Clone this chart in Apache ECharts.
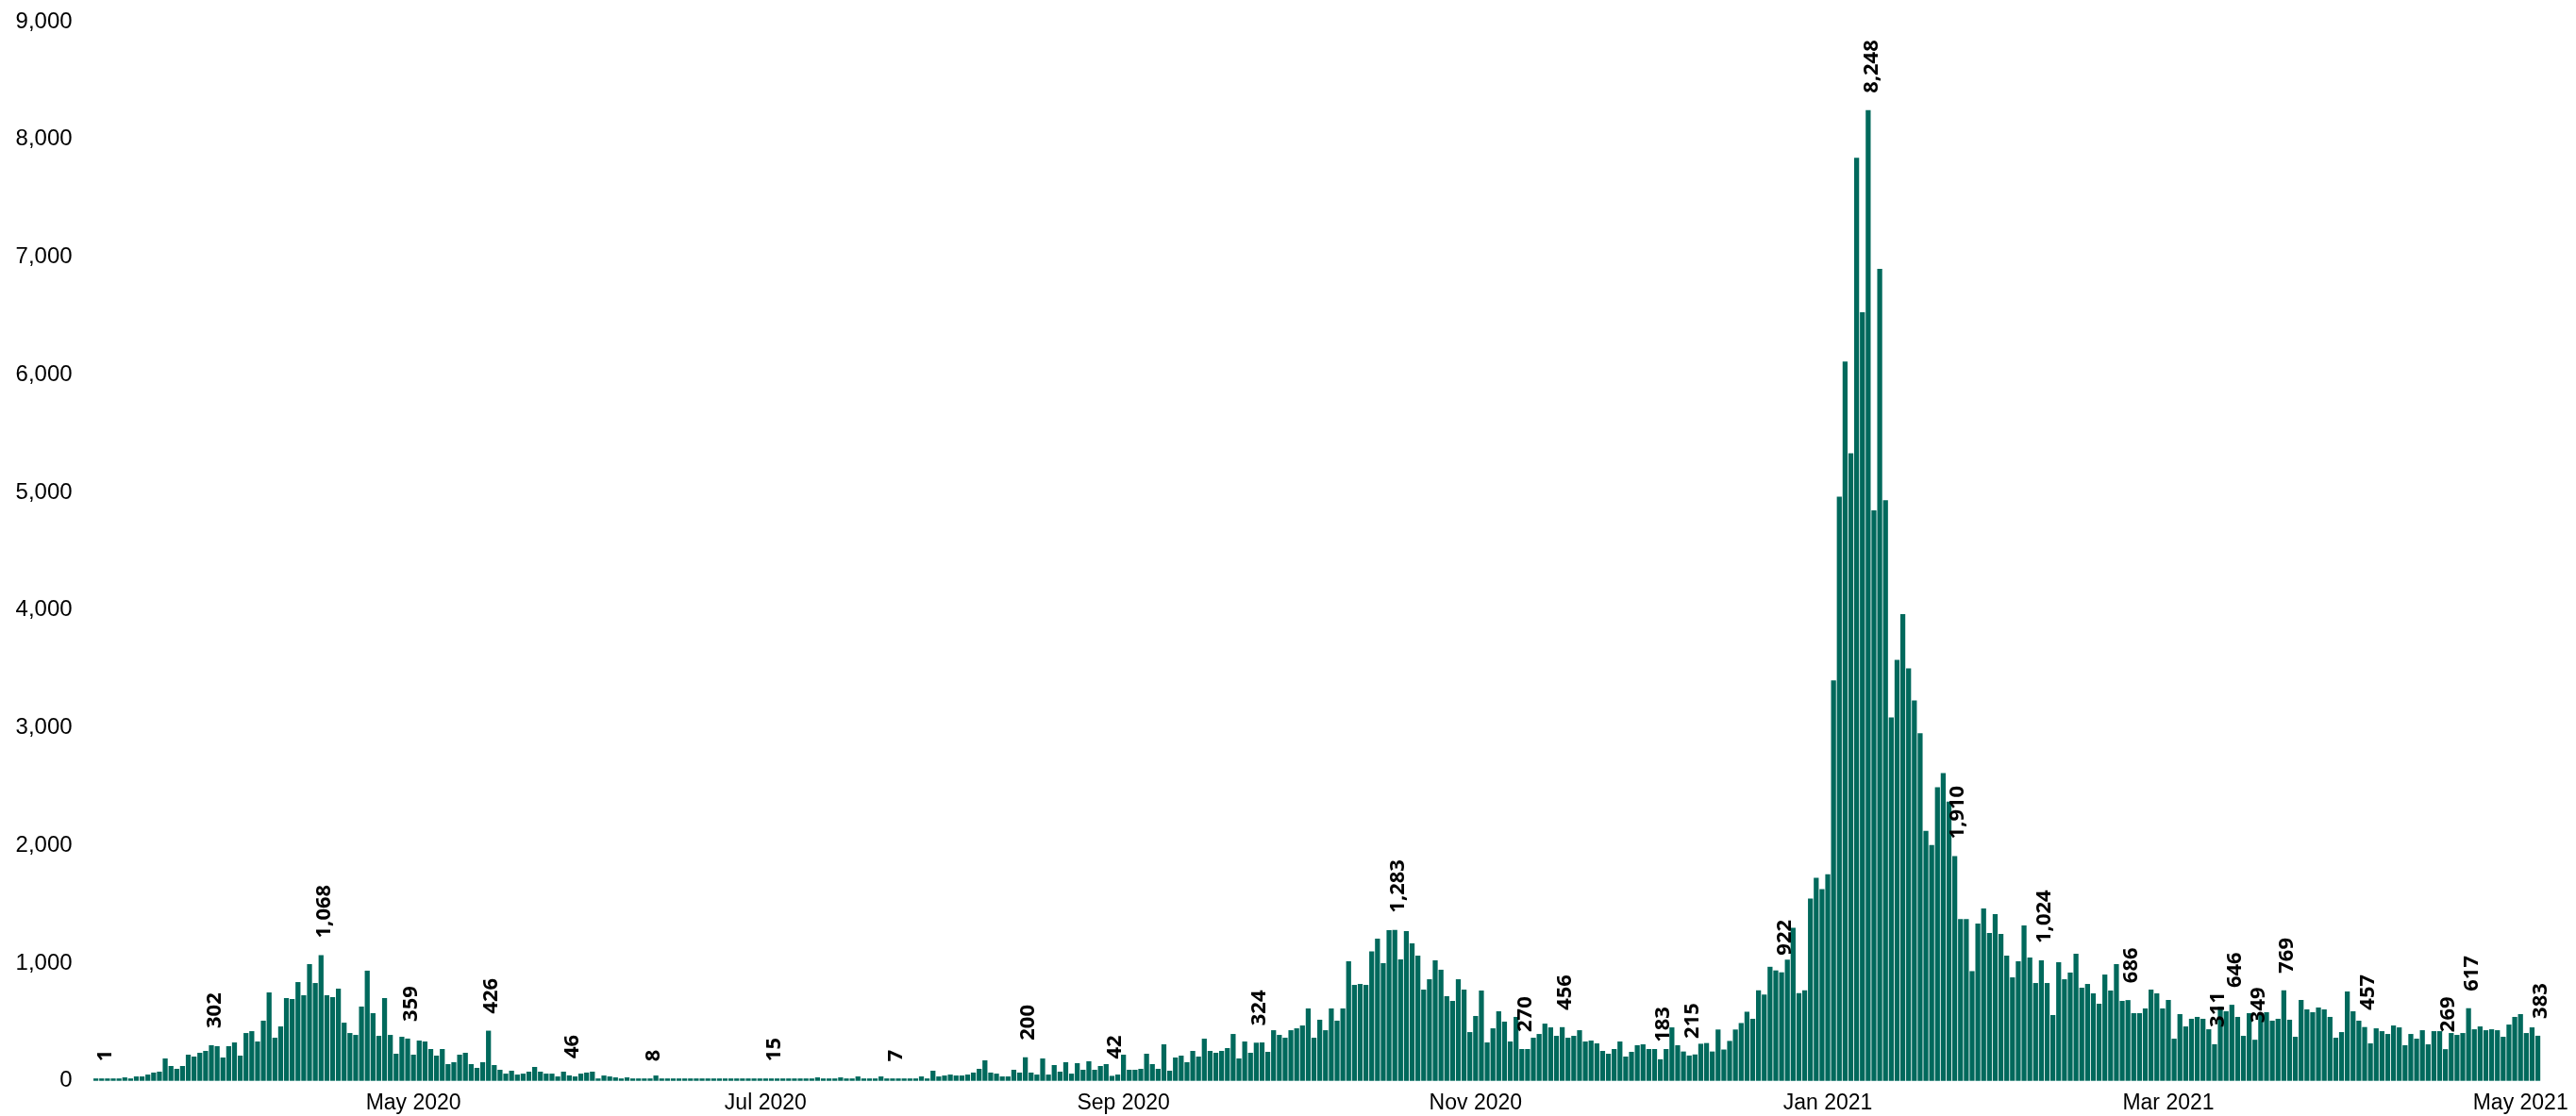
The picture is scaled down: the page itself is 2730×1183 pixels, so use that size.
<!DOCTYPE html>
<html>
<head>
<meta charset="utf-8">
<script src="https://cdn.jsdelivr.net/npm/echarts@6/dist/echarts.min.js"></script>
<style>
html,body{margin:0;padding:0;background:#ffffff;}
#chart{width:2730px;height:1183px;}
</style>
</head>
<body>
<div id="chart"></div>
<script>
// First day of the series (one bar per day)
const startDate = '2020-03-07';

// Daily values, one per day from startDate
const dailyValues = [
  1, 1, 2, 3, 2, 29, 5, 37, 37, 53,
  70, 78, 190, 126, 102, 126, 222, 206, 238, 254,
  302, 294, 198, 294, 326, 214, 406, 422, 334, 511,
  751, 366, 462, 703, 695, 839, 727, 992, 831, 1068,
  727, 711, 783, 494, 406, 390, 631, 936, 575, 382,
  703, 390, 230, 374, 359, 222, 342, 334, 270, 214,
  270, 142, 158, 222, 238, 142, 110, 158, 426, 134,
  94, 61, 86, 53, 61, 78, 118, 78, 61, 61,
  37, 78, 46, 37, 61, 70, 78, 15, 45, 37,
  29, 18, 29, 12, 10, 14, 8, 45, 10, 12,
  9, 11, 8, 10, 7, 9, 12, 8, 6, 9,
  11, 7, 10, 8, 12, 9, 10, 15, 8, 11,
  9, 7, 12, 10, 8, 29, 9, 11, 13, 29,
  12, 10, 37, 14, 11, 12, 37, 13, 7, 11,
  12, 9, 14, 37, 18, 86, 37, 45, 53, 45,
  45, 53, 70, 102, 174, 70, 61, 37, 37, 94,
  70, 200, 70, 53, 190, 53, 134, 78, 158, 61,
  150, 94, 166, 94, 126, 142, 42, 53, 222, 94,
  94, 102, 230, 142, 102, 310, 86, 198, 214, 158,
  254, 206, 358, 254, 238, 254, 278, 398, 190, 334,
  238, 324, 326, 246, 430, 390, 366, 430, 446, 470,
  615, 366, 519, 430, 615, 511, 615, 1016, 815, 823,
  815, 1099, 1208, 1000, 1280, 1283, 1032, 1272, 1168, 1064,
  775, 863, 1024, 944, 719, 679, 863, 775, 414, 551,
  767, 326, 446, 591, 503, 334, 543, 270, 270, 366,
  398, 486, 454, 382, 456, 366, 382, 430, 334, 342,
  318, 254, 230, 270, 334, 206, 246, 302, 310, 270,
  270, 183, 270, 454, 302, 249, 215, 224, 315, 321,
  249, 436, 266, 339, 436, 491, 587, 527, 769, 733,
  969, 938, 922, 1029, 1301, 745, 769, 1549, 1725, 1629,
  1755, 3402, 4963, 6113, 5332, 7844, 6531, 8248, 4848, 6900,
  4933, 3087, 3577, 3965, 3504, 3232, 2954, 2124, 2004, 2494,
  2615, 2373, 1910, 1374, 1374, 932, 1337, 1465, 1256, 1417,
  1248, 1064, 879, 1016, 1320, 1048, 831, 1024, 831, 559,
  1008, 863, 920, 1080, 791, 823, 743, 655, 903, 767,
  992, 679, 686, 575, 575, 615, 775, 743, 615, 687,
  358, 567, 462, 527, 543, 527, 438, 311, 631, 591,
  646, 543, 382, 575, 349, 575, 583, 511, 527, 769,
  519, 374, 687, 607, 583, 623, 607, 543, 366, 414,
  759, 591, 511, 457, 318, 446, 422, 398, 470, 454,
  302, 398, 358, 430, 310, 422, 422, 269, 406, 390,
  406, 617, 438, 462, 430, 438, 430, 374, 478, 543,
  567, 406, 454, 383
];

// Day positions (index into dailyValues) that carry a value label
const labelledDays = [1, 20, 39, 54, 68, 82, 96, 117, 138, 161, 176, 201, 225, 247, 254,
  271, 276, 292, 307, 322, 337, 352, 367, 370, 374, 379, 393, 407, 411, 423];

// X tick positions and their labels
const tickDates = ['2020-05-01', '2020-07-01', '2020-09-01', '2020-11-01', '2021-01-01', '2021-03-01', '2021-05-01'];
const tickLabels = ['May 2020', 'Jul 2020', 'Sep 2020', 'Nov 2020', 'Jan 2021', 'Mar 2021', 'May 2021'];

// Y axis
const yMin = 0, yMax = 9000, yStep = 1000;

const categories = [];
const d0 = Date.parse(startDate + 'T00:00:00Z');
for (let i = 0; i < dailyValues.length; i++) {
  categories.push(new Date(d0 + i * 86400000).toISOString().slice(0, 10));
}
const fmt = v => Number(v).toLocaleString('en-US');
const seriesData = dailyValues.map((v, i) =>
  labelledDays.indexOf(i) >= 0 ? { value: v, label: { show: true } } : v);

const chart = echarts.init(document.getElementById('chart'), null, { renderer: 'canvas' });
chart.setOption({
  animation: false,
  backgroundColor: '#ffffff',
  grid: { left: 98.6, right: 37.4, top: 23, bottom: 37.3, containLabel: false, outerBoundsMode: 'none' },
  xAxis: {
    type: 'category',
    data: categories,
    boundaryGap: true,
    axisLine: { show: false },
    axisTick: { show: false },
    splitLine: { show: false },
    axisLabel: {
      interval: (idx, val) => tickDates.indexOf(val) >= 0,
      formatter: val => { const k = tickDates.indexOf(val); return k >= 0 ? tickLabels[k] : ''; },
      color: '#000000',
      fontSize: 23,
      fontFamily: '"Liberation Sans", Arial, sans-serif',
      margin: 12
    }
  },
  yAxis: {
    type: 'value',
    min: yMin, max: yMax, interval: yStep,
    axisLine: { show: false },
    axisTick: { show: false },
    splitLine: { show: false },
    axisLabel: {
      formatter: v => fmt(v),
      color: '#000000',
      fontSize: 24,
      fontFamily: '"Liberation Sans", Arial, sans-serif',
      margin: 22
    }
  },
  series: [{
    type: 'bar',
    data: seriesData,
    barCategoryGap: '14%',
    barMinHeight: 2.5,
    itemStyle: { color: '#00695c' },
    label: {
      show: false,
      position: 'top',
      rotate: 90,
      align: 'left',
      verticalAlign: 'middle',
      distance: 18,
      offset: [0, 3.5],
      fontFamily: '"Open Sans", sans-serif',
      fontWeight: 'bold',
      fontSize: 22,
      color: '#000000',
      formatter: p => fmt(p.value)
    }
  }]
});
</script>
</body>
</html>
